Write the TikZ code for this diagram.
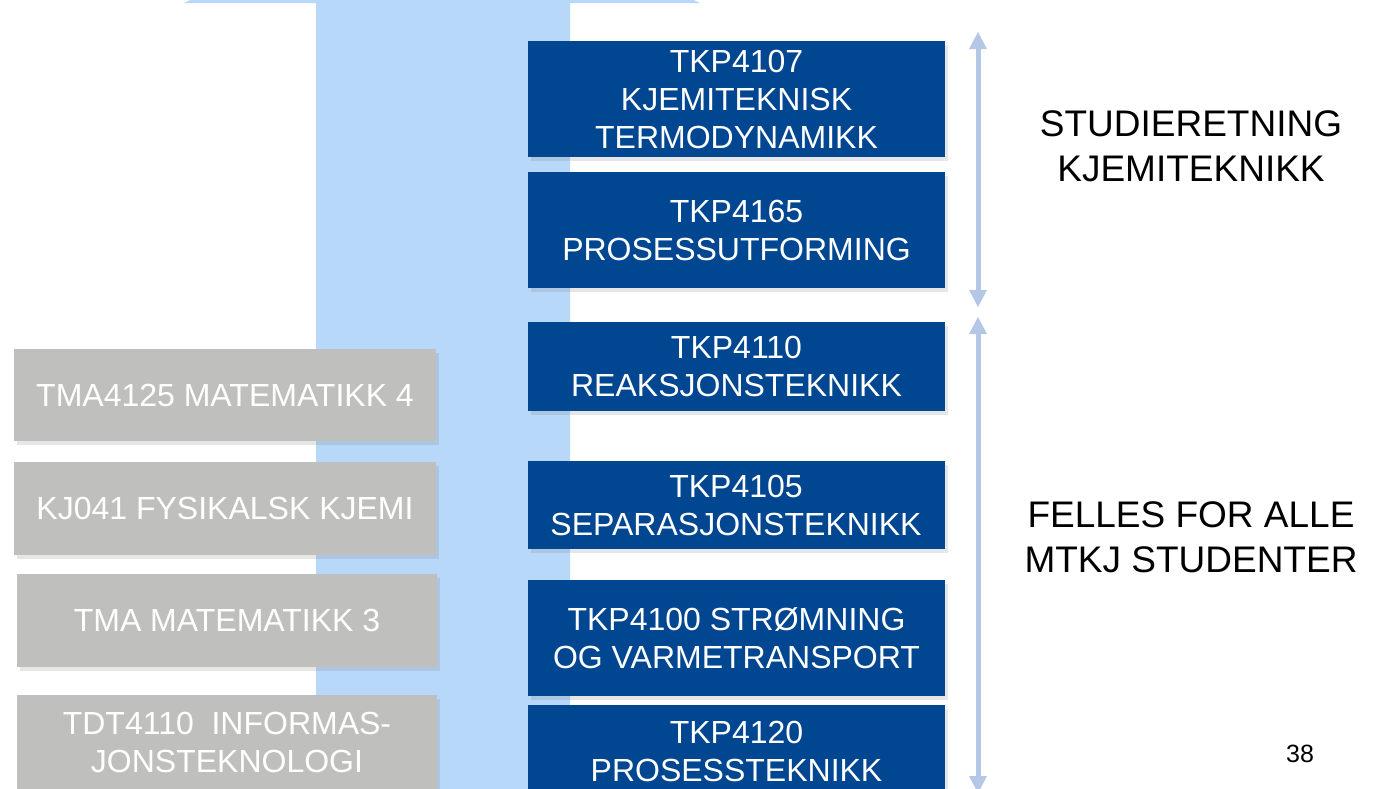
\documentclass[tikz,border=0pt]{standalone}
\usepackage{fontspec}
\setmainfont{Liberation Sans}
\usetikzlibrary{arrows.meta,shadows}
\definecolor{kursblaa}{RGB}{0,70,145}
\definecolor{lysblaa}{RGB}{184,216,250}
\definecolor{pilblaa}{RGB}{180,199,231}
\definecolor{grunngraa}{RGB}{191,192,190}
\begin{document}
\begin{tikzpicture}[x = 1pt, y = -1pt,
    kurs/.style = {fill=kursblaa, text=white, minimum width=417pt, inner sep=0pt, align=center,
        font=\fontsize{32}{38}\selectfont,
        drop shadow={shadow xshift=3pt, shadow yshift=-4pt, opacity=0.2}},
    grunnfag/.style = {fill=grunngraa, text=white, inner sep=0pt, align=center,
        font=\fontsize{32}{38}\selectfont,
        drop shadow={shadow xshift=3pt, shadow yshift=-4pt, opacity=0.2}},
    pil/.style = {draw=pilblaa, line width=5pt,
        {Triangle[width=18pt, length=17pt, line width=0pt]}-{Triangle[width=18pt, length=17pt, line width=0pt]}},
    merke/.style = {align=center, font=\fontsize{37}{45}\selectfont}]
    \useasboundingbox (0, 0) rectangle (1373, 788);
    \clip (0, 0) rectangle (1373, 788);
    % stor pil bak emnene
    \fill [lysblaa] (316, 800) -- (316, 3) -- (184, 3) -- (442, -120) -- (700, 3) -- (570, 3) -- (570, 800) -- cycle;
    % grunnfag
    \node [grunnfag, minimum width=422pt, minimum height=92pt] (tma4125) at (225, 395) {TMA4125 MATEMATIKK 4};
    \node [grunnfag, minimum width=422pt, minimum height=93pt] (kj041) at (225, 508.5) {KJ041 FYSIKALSK KJEMI};
    \node [grunnfag, minimum width=420pt, minimum height=93pt] (tma3) at (227, 620.5) {TMA MATEMATIKK 3};
    \node [grunnfag, minimum width=420pt, minimum height=95pt] (tdt4110) at (227, 742.5) {TDT4110\ \ INFORMAS-\\JONSTEKNOLOGI};
    % emner kjemiteknikk
    \node [kurs, minimum height=116pt] (tkp4107) at (736.5, 99) {TKP4107\\KJEMITEKNISK\\TERMODYNAMIKK};
    \node [kurs, minimum height=116pt] (tkp4165) at (736.5, 230) {TKP4165\\PROSESSUTFORMING};
    \node [kurs, minimum height=89pt] (tkp4110) at (736.5, 366.5) {TKP4110\\REAKSJONSTEKNIKK};
    \node [kurs, minimum height=88pt] (tkp4105) at (736, 505) {TKP4105\\SEPARASJONSTEKNIKK};
    \node [kurs, minimum height=116pt] (tkp4100) at (736.5, 638) {TKP4100 STRØMNING\\OG VARMETRANSPORT};
    \node [kurs, minimum height=92pt] (tkp4120) at (736.5, 751) {TKP4120\\PROSESSTEKNIKK};
    % piler til høyre
    \coordinate (studie topp) at (978, 32);
    \coordinate (studie bunn) at (978, 307);
    \coordinate (felles topp) at (978, 317);
    \coordinate (felles bunn) at (978, 793);
    \draw [pil] (studie topp) -- (studie bunn);
    \draw [pil] (felles topp) -- (felles bunn);
    \node [merke] (studieretning) at (1191, 146) {STUDIERETNING\\KJEMITEKNIKK};
    \node [merke] (felles) at (1191, 537) {FELLES FOR ALLE\\MTKJ STUDENTER};
    \node [font=\fontsize{25}{30}\selectfont] (side) at (1300, 754) {38};
\end{tikzpicture}
\end{document}
